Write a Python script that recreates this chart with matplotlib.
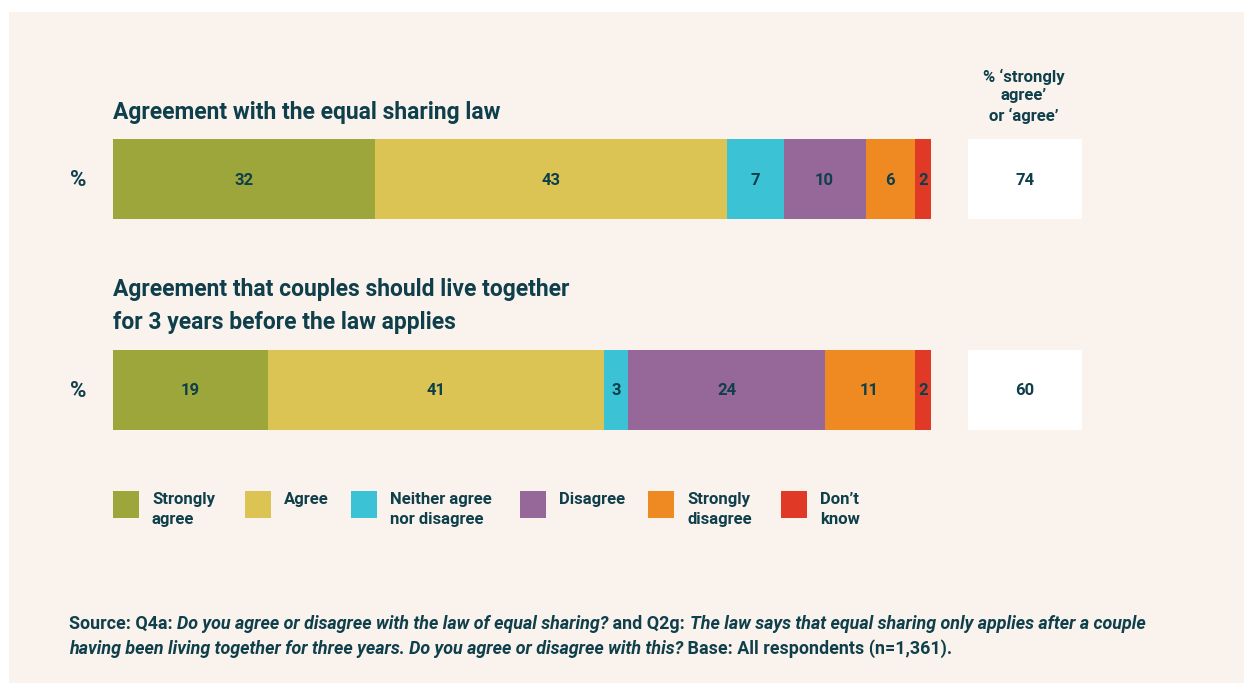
import matplotlib.pyplot as plt
from matplotlib.patches import Rectangle

# data
categories = ['Strongly\nagree', 'Agree', 'Neither agree\nnor disagree', 'Disagree',
              'Strongly\ndisagree', 'Don\u2019t\nknow']
colors = ['#9ca63a', '#dbc453', '#3bc2d4', '#966799', '#ef8a22', '#e03a26']
questions = ['Agreement with the equal sharing law',
             'Agreement that couples should live together\nfor 3 years before the law applies']
values = [[32, 43, 7, 10, 6, 2],
          [19, 41, 3, 24, 11, 2]]
agree_totals = [74, 60]

TXT = '#0e3f4b'
BG = '#faf2ec'
W, H = 1244, 683
FONT = 'Roboto'

fig = plt.figure(figsize=(W / 100, H / 100), dpi=100)
fig.patch.set_facecolor('white')


def fx(x):
    return x / W


def fy(y):
    return 1 - y / H


# cream panel
fig.patches.append(Rectangle((fx(9), fy(683)), fx(1244) - fx(9), fy(12) - fy(683),
                             transform=fig.transFigure, facecolor=BG, edgecolor='none', zorder=-10))

# bars axes (pixel box 113..931, 139..430)
ax = fig.add_axes([fx(113), fy(430), fx(931) - fx(113), fy(139) - fy(430)])
ax.set_xlim(0, 100)
ax.set_ylim(1.19, -0.19)
ax.axis('off')

bar_h = 80 / 211
for row, vals in enumerate(values):
    left = 0
    for v, c in zip(vals, colors):
        ax.barh(row, v, left=left, height=bar_h, color=c, edgecolor='none')
        ax.text(left + v / 2, row + 0.005, str(v), ha='center', va='center', color=TXT,
                fontsize=12, fontweight='bold', family=FONT)
        left += v
    ax.text(-4.2, row + 0.005, '%', ha='center', va='center', color=TXT,
            fontsize=16, fontweight='bold', family=FONT)

# total boxes (968..1082)
bx = fig.add_axes([fx(968), fy(430), fx(1082) - fx(968), fy(139) - fy(430)])
bx.set_xlim(0, 1)
bx.set_ylim(1.19, -0.19)
bx.axis('off')
for row, t in enumerate(agree_totals):
    bx.barh(row, 1, height=bar_h, color='white', edgecolor='none')
    bx.text(0.5, row + 0.005, str(t), ha='center', va='center', color=TXT,
            fontsize=12, fontweight='bold', family=FONT)

fig.text(fx(1024), fy(96), '% \u2018strongly\nagree\u2019\nor \u2018agree\u2019', ha='center', va='center',
         color=TXT, fontsize=12, fontweight='bold', family=FONT, linespacing=1.3)

# titles
fig.text(fx(113), fy(112), questions[0], ha='left', va='center', color=TXT,
         fontsize=16.5, fontweight='bold', family=FONT)
fig.text(fx(113), fy(306), questions[1], ha='left', va='center', color=TXT,
         fontsize=16.5, fontweight='bold', family=FONT, linespacing=1.55)

# legend
patch_x = [113, 245, 351, 520, 648, 781]
for px_, lab, c in zip(patch_x, categories, colors):
    fig.patches.append(Rectangle((fx(px_), fy(518)), fx(26), fy(491) - fy(518),
                                 transform=fig.transFigure, facecolor=c, edgecolor='none'))
    fig.text(fx(px_ + 39), fy(492), lab, ha='left', va='top', color=TXT,
             fontsize=12, fontweight='bold', family=FONT, linespacing=1.4)

# source note, mixed normal / italic pieces
lines = [
    [('Source: Q4a: ', 'normal'), ('Do you agree or disagree with the law of equal sharing?', 'italic'),
     (' and Q2g: ', 'normal'),
     ('The law says that equal sharing only applies after a couple', 'italic')],
    [('having been living together for three years. Do you agree or disagree with this?', 'italic'),
     (' Base: All respondents (n=1,361).', 'normal')],
]
fig.canvas.draw()
r = fig.canvas.get_renderer()
for y, parts in zip([624, 649], lines):
    x = fx(69)
    for s, st in parts:
        t = fig.text(x, fy(y), s, ha='left', va='center', color=TXT, fontsize=12.9,
                     fontweight='bold', fontstyle=st, family=FONT)
        bb = t.get_window_extent(renderer=r)
        x += bb.width / W

fig.savefig('out.png', dpi=100, facecolor=fig.get_facecolor())
